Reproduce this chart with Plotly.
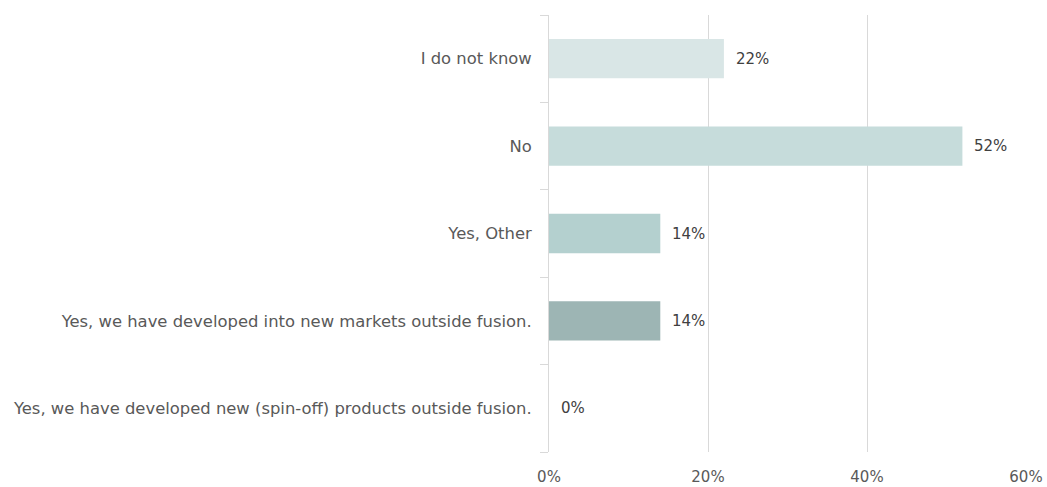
import plotly.graph_objects as go

categories = [
    "I do not know",
    "No",
    "Yes, Other",
    "Yes, we have developed into new markets outside fusion.",
    "Yes, we have developed new (spin-off) products outside fusion.",
]
values = [22, 52, 14, 14, 0]
bar_colors = ["#d9e6e6", "#c6dcdb", "#b4d0cf", "#9db5b4", "#8aa3a2"]
x_ticks = [0, 20, 40, 60]
x_tick_labels = ["0%", "20%", "40%", "60%"]

FONT = "DejaVu Sans"

fig = go.Figure(
    go.Bar(
        x=values,
        y=categories,
        orientation="h",
        marker=dict(color=bar_colors, line=dict(width=0)),
        width=0.45,
        hoverinfo="skip",
    )
)

# value labels to the right of each bar
for cat, val in zip(categories, values):
    fig.add_annotation(
        x=val, y=cat, text=f"{val}%", showarrow=False,
        xanchor="left", yanchor="middle", xshift=10,
        font=dict(family=FONT, size=15, color="#404040"),
    )

fig.update_layout(
    width=1047, height=487,
    margin=dict(l=549, r=21, t=15, b=35, autoexpand=False),
    paper_bgcolor="white", plot_bgcolor="white",
    showlegend=False,
    font=dict(family=FONT, size=16, color="#595959"),
    xaxis=dict(
        range=[0, 60], tickvals=x_ticks, ticktext=x_tick_labels,
        showgrid=True, gridcolor="#d9d9d9", gridwidth=1,
        zeroline=False, showline=False, ticks="",
        ticklabelstandoff=14, automargin=False,
        tickfont=dict(family=FONT, size=15, color="#595959"),
        fixedrange=True,
    ),
    yaxis=dict(
        categoryorder="array", categoryarray=categories[::-1],
        showline=True, linecolor="#d9d9d9", linewidth=1,
        ticks="outside", ticklen=8, tickcolor="#d9d9d9",
        tickson="boundaries", showgrid=False,
        ticklabelstandoff=13, automargin=False,
        tickfont=dict(family=FONT, size=16.4, color="#595959"),
        fixedrange=True,
    ),
)

fig.write_html("out.html")
